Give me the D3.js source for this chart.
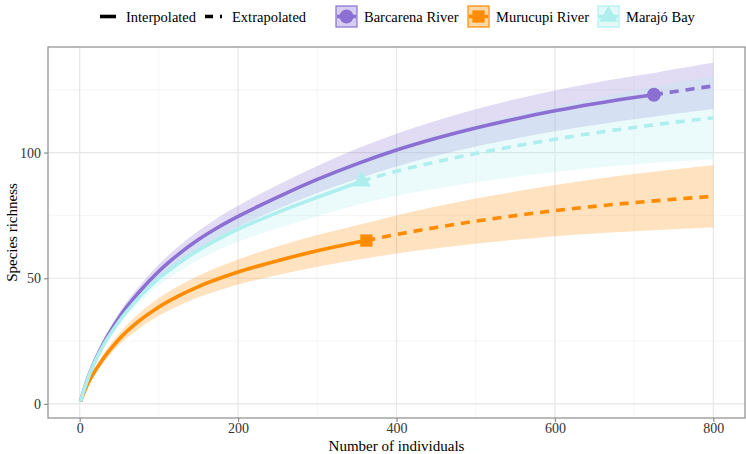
<!DOCTYPE html>
<html>
<head>
<meta charset="utf-8">
<script src="https://cdn.jsdelivr.net/npm/d3@7"></script>
<style>
  body { margin: 0; background: #fff; }
  text { font-family: "Liberation Serif", "Times New Roman", serif; }
</style>
</head>
<body>
<svg id="chart"></svg>
<script>
// Sample sizes and richness estimates
var barcarenaInterpN = [1, 10, 25, 50, 75, 100, 125, 150, 175, 200, 250, 300, 350, 400, 450, 500, 550, 600, 650, 700, 725];
var barcarenaInterpS = [1, 10, 21, 34.5, 44.5, 52.8, 59.6, 65.4, 70.3, 74.6, 82.3, 89.3, 95.5, 101, 105.7, 109.8, 113.4, 116.6, 119.4, 121.9, 123];
var barcarenaInterpLo = [1, 9.4, 19.8, 32.7, 42.2, 50, 56.5, 61.9, 66.4, 70.4, 77.5, 83.9, 89.5, 94.5, 98.7, 102.4, 105.6, 108.5, 111, 113.3, 114.3];
var barcarenaInterpHi = [1, 10.6, 22.2, 36.3, 46.8, 55.6, 62.7, 68.9, 74.2, 78.8, 87.1, 94.7, 101.5, 107.5, 112.7, 117.2, 121.2, 124.7, 127.8, 130.5, 131.7];
var barcarenaExtrapN = [725, 750, 775, 800];
var barcarenaExtrapS = [123, 124.2, 125.4, 126.5];
var barcarenaExtrapLo = [114.3, 115.3, 116.35, 117.3];
var barcarenaExtrapHi = [131.7, 133.1, 134.45, 135.7];

var murucupiInterpN = [1, 10, 25, 50, 75, 100, 125, 150, 175, 200, 250, 300, 362];
var murucupiInterpS = [1, 7.8, 15.8, 25.8, 33, 38.6, 43, 46.7, 49.8, 52.5, 57, 60.9, 65];
var murucupiInterpLo = [1, 7, 14.3, 23.5, 30, 35.1, 39.1, 42.4, 45.1, 47.5, 51.3, 54.6, 58];
var murucupiInterpHi = [1, 8.6, 17.3, 28.1, 36, 42.1, 46.9, 51, 54.5, 57.5, 62.7, 67.2, 72];
var murucupiExtrapN = [362, 400, 450, 500, 550, 600, 650, 700, 750, 800];
var murucupiExtrapS = [65, 67.4, 70.2, 72.7, 74.9, 76.9, 78.6, 80.1, 81.4, 82.6];
var murucupiExtrapLo = [58, 59.8, 61.9, 63.7, 65.3, 66.7, 67.8, 68.7, 69.5, 70.2];
var murucupiExtrapHi = [72, 75, 78.5, 81.7, 84.5, 87.1, 89.4, 91.5, 93.3, 95];

var marajoInterpN = [1, 10, 25, 50, 75, 100, 125, 150, 175, 200, 250, 300, 356];
var marajoInterpS = [1, 9.8, 20.5, 33, 42.4, 50, 56, 61.2, 65.6, 69.5, 76.2, 82.2, 88.6];
var marajoInterpLo = [1, 9.2, 19.3, 31.2, 40.1, 47.2, 52.7, 57.4, 61.2, 64.5, 69.9, 74.6, 79.6];
var marajoInterpHi = [1, 10.4, 21.7, 34.8, 44.7, 52.8, 59.3, 65, 70, 74.5, 82.5, 89.8, 97.6];
var marajoExtrapN = [356, 400, 450, 500, 550, 600, 650, 700, 750, 800];
var marajoExtrapS = [88.6, 92.6, 96.3, 99.6, 102.6, 105.3, 107.8, 110, 112, 113.8];
var marajoExtrapLo = [79.6, 82.8, 85.7, 88.2, 90.4, 92.3, 94, 95.3, 96.4, 97.2];
var marajoExtrapHi = [97.6, 102.4, 106.9, 111, 114.8, 118.3, 121.6, 124.7, 127.6, 130.4];

var siteNames = ["Barcarena River", "Murucupi River", "Marajó Bay"];
var xTicks = [0, 200, 400, 600, 800];
var yTicks = [0, 50, 100];

var colors = { "Barcarena River": "#8b6fd3", "Murucupi River": "#ff8c00", "Marajó Bay": "#aeeeee" };
var shapes = { "Barcarena River": d3.symbolCircle, "Murucupi River": d3.symbolSquare, "Marajó Bay": d3.symbolTriangle };

function rows(n, s, lo, hi) {
    return n.map(function(v, i) { return { n: v, s: s[i], lo: lo[i], hi: hi[i] }; });
}

var sites = [
    { name: "Barcarena River",
      interp: rows(barcarenaInterpN, barcarenaInterpS, barcarenaInterpLo, barcarenaInterpHi),
      extrap: rows(barcarenaExtrapN, barcarenaExtrapS, barcarenaExtrapLo, barcarenaExtrapHi) },
    { name: "Murucupi River",
      interp: rows(murucupiInterpN, murucupiInterpS, murucupiInterpLo, murucupiInterpHi),
      extrap: rows(murucupiExtrapN, murucupiExtrapS, murucupiExtrapLo, murucupiExtrapHi) },
    { name: "Marajó Bay",
      interp: rows(marajoInterpN, marajoInterpS, marajoInterpLo, marajoInterpHi),
      extrap: rows(marajoExtrapN, marajoExtrapS, marajoExtrapLo, marajoExtrapHi) }
];

var W = 746, H = 454;
var panel = { left: 48, right: 745, top: 47, bottom: 418 };

var svg = d3.select("#chart").attr("width", W).attr("height", H);

// ggplot-style expanded scales
var x = d3.scaleLinear().domain([-40, 840]).range([panel.left, panel.right]);
var y = d3.scaleLinear().domain([-5.6, 142]).range([panel.bottom, panel.top]);

// Grid
var grid = svg.append("g");
[100, 300, 500, 700].forEach(function(v) {
    grid.append("line").attr("x1", x(v)).attr("x2", x(v)).attr("y1", panel.top).attr("y2", panel.bottom)
        .attr("stroke", "#f2f2f2").attr("stroke-width", 0.8);
});
[25, 75, 125].forEach(function(v) {
    grid.append("line").attr("x1", panel.left).attr("x2", panel.right).attr("y1", y(v)).attr("y2", y(v))
        .attr("stroke", "#f2f2f2").attr("stroke-width", 0.8);
});
xTicks.forEach(function(v) {
    grid.append("line").attr("x1", x(v)).attr("x2", x(v)).attr("y1", panel.top).attr("y2", panel.bottom)
        .attr("stroke", "#e6e6e6").attr("stroke-width", 1.2);
});
yTicks.forEach(function(v) {
    grid.append("line").attr("x1", panel.left).attr("x2", panel.right).attr("y1", y(v)).attr("y2", y(v))
        .attr("stroke", "#e6e6e6").attr("stroke-width", 1.2);
});

// Ribbons
var area = d3.area()
    .x(function(d) { return x(d.n); })
    .y0(function(d) { return y(d.lo); })
    .y1(function(d) { return y(d.hi); })
    .curve(d3.curveMonotoneX);

sites.forEach(function(site) {
    svg.append("path")
        .datum(site.interp.concat(site.extrap.slice(1)))
        .attr("d", area)
        .attr("fill", colors[site.name])
        .attr("fill-opacity", 0.25);
});

// Lines
var line = d3.line()
    .x(function(d) { return x(d.n); })
    .y(function(d) { return y(d.s); })
    .curve(d3.curveMonotoneX);

sites.forEach(function(site) {
    svg.append("path").datum(site.interp).attr("d", line)
        .attr("fill", "none").attr("stroke", colors[site.name]).attr("stroke-width", 3.6);
    svg.append("path").datum(site.extrap).attr("d", line)
        .attr("fill", "none").attr("stroke", colors[site.name]).attr("stroke-width", 3.6)
        .attr("stroke-dasharray", "9,7");
});

// Observed points
sites.forEach(function(site) {
    var last = site.interp[site.interp.length - 1];
    svg.append("path")
        .attr("d", d3.symbol().type(shapes[site.name]).size(150)())
        .attr("transform", "translate(" + x(last.n) + "," + y(last.s) + ")")
        .attr("fill", colors[site.name]);
});

// Panel border
svg.append("rect")
    .attr("x", panel.left).attr("y", panel.top)
    .attr("width", panel.right - panel.left).attr("height", panel.bottom - panel.top)
    .attr("fill", "none").attr("stroke", "#8c8c8c").attr("stroke-width", 1.2);

// Axes
var xAxis = svg.append("g")
    .attr("transform", "translate(0," + panel.bottom + ")")
    .call(d3.axisBottom(x).tickValues(xTicks).tickSize(4).tickPadding(1));
var yAxis = svg.append("g")
    .attr("transform", "translate(" + panel.left + ",0)")
    .call(d3.axisLeft(y).tickValues(yTicks).tickSize(4).tickPadding(3));
[xAxis, yAxis].forEach(function(a) {
    a.select(".domain").remove();
    a.selectAll("line").attr("stroke", "#8c8c8c").attr("stroke-width", 1.2);
    a.selectAll("text").attr("fill", "#333").style("font-size", "14px")
        .style("font-family", "'Liberation Serif', serif");
});

svg.append("text")
    .attr("x", (panel.left + panel.right) / 2).attr("y", 451)
    .attr("text-anchor", "middle").style("font-size", "15px")
    .text("Number of individuals");

svg.append("text")
    .attr("transform", "translate(17," + ((panel.top + panel.bottom) / 2) + ") rotate(-90)")
    .attr("text-anchor", "middle").style("font-size", "15px")
    .text("Species richness");

// Legend
var legend = svg.append("g");
var ly = 16.5;
legend.append("line").attr("x1", 100).attr("x2", 116).attr("y1", ly).attr("y2", ly)
    .attr("stroke", "#000").attr("stroke-width", 3.6);
legend.append("text").attr("x", 126).attr("y", ly + 5).style("font-size", "14.5px").text("Interpolated");
legend.append("line").attr("x1", 205).attr("x2", 222).attr("y1", ly).attr("y2", ly)
    .attr("stroke", "#000").attr("stroke-width", 3.6).attr("stroke-dasharray", "8,7");
legend.append("text").attr("x", 232).attr("y", ly + 5).style("font-size", "14.5px").text("Extrapolated");

var keyX = [336, 468, 598];
siteNames.forEach(function(name, i) {
    var g = legend.append("g").attr("transform", "translate(" + keyX[i] + ",6)");
    g.append("rect").attr("width", 21).attr("height", 21)
        .attr("fill", colors[name]).attr("fill-opacity", 0.35)
        .attr("stroke", colors[name]).attr("stroke-width", 1.2);
    g.append("line").attr("x1", 1).attr("x2", 20).attr("y1", 10.5).attr("y2", 10.5)
        .attr("stroke", colors[name]).attr("stroke-width", 3.6);
    g.append("path").attr("d", d3.symbol().type(shapes[name]).size(150)())
        .attr("transform", "translate(10.5,10.5)").attr("fill", colors[name]);
    g.append("text").attr("x", 28).attr("y", 15.5).style("font-size", "14.5px").text(name);
});
</script>
</body>
</html>
